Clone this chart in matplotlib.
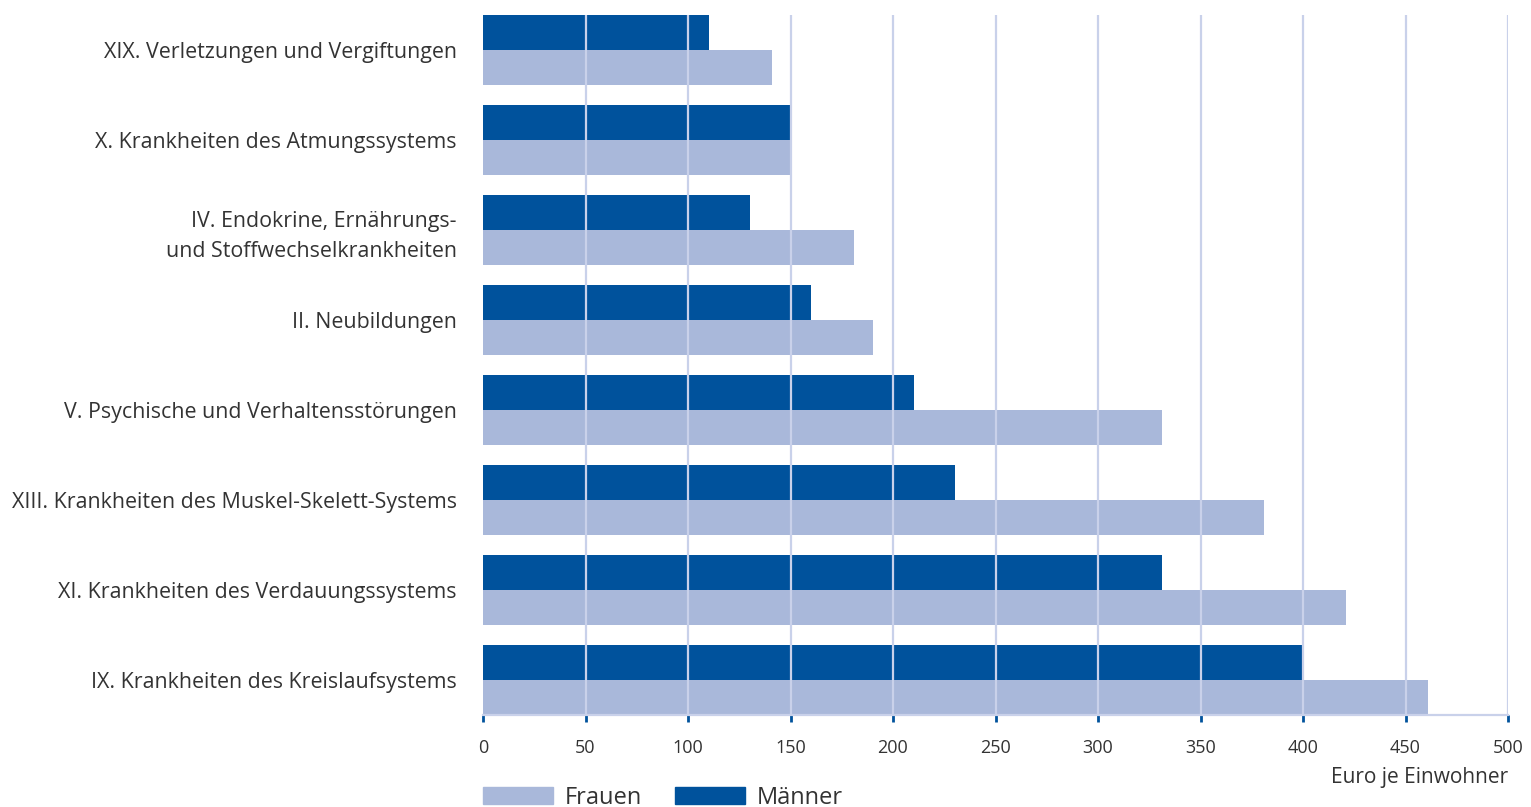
import numpy as np
import matplotlib.pyplot as plt
from matplotlib.patches import Patch

plt.rcParams['font.family'] = ['Open Sans', 'DejaVu Sans']

categories = [
    "XIX. Verletzungen und Vergiftungen",
    "X. Krankheiten des Atmungssystems",
    "IV. Endokrine, Ernährungs-\nund Stoffwechselkrankheiten",
    "II. Neubildungen",
    "V. Psychische und Verhaltensstörungen",
    "XIII. Krankheiten des Muskel-Skelett-Systems",
    "XI. Krankheiten des Verdauungssystems",
    "IX. Krankheiten des Kreislaufsystems",
]
maenner = [110, 150, 130, 160, 210, 230, 331, 400]
frauen = [141, 150, 181, 190, 331, 381, 421, 461]
xticks = [0, 50, 100, 150, 200, 250, 300, 350, 400, 450, 500]

c_m = "#00529c"
c_f = "#a9b8da"
c_grid = "#c9d1ea"
c_text = "#333333"

fig = plt.figure(figsize=(15.31, 8.07), dpi=100)
ax = fig.add_axes([483 / 1531, 1 - 715 / 807, 1025 / 1531, 700 / 807])

n = len(categories)
bh = 35 / 90
# bottom group is last category
pos = np.arange(n)[::-1]
ax.barh(pos + bh, maenner, height=bh, align='edge', color=c_m, zorder=1)
ax.barh(pos, frauen, height=bh, align='edge', color=c_f, zorder=1)

for x in xticks[1:]:
    ax.axvline(x, color=c_grid, lw=1.6, zorder=2)

ax.set_xlim(0, 500)
ax.set_ylim(0, (n - 1) + 2 * bh)
ax.set_yticks(pos + bh)
ax.set_yticklabels(categories, fontsize=15.4, color=c_text, ha='right', linespacing=1.55)
ax.tick_params(axis='y', length=0, pad=19)
ax.set_xticks(xticks)
ax.set_xticklabels([str(v) for v in xticks], fontsize=13, color=c_text)
ax.tick_params(axis='x', length=5, width=2, color=c_m, pad=12)

for s in ['top', 'right', 'left']:
    ax.spines[s].set_visible(False)
ax.spines['bottom'].set_color(c_grid)
ax.spines['bottom'].set_linewidth(1.6)

fig.text(1508 / 1531, 1 - 778 / 807, "Euro je Einwohner", ha='right', va='center',
         fontsize=15, color=c_text)

handles = [Patch(color=c_f, label="Frauen"), Patch(color=c_m, label="Männer")]
fig.legend(handles=handles, loc='center left', bbox_to_anchor=(483 / 1531, 1 - 798 / 807),
           ncol=2, frameon=False, fontsize=17, handlelength=2.97, handleheight=0.76,
           handletextpad=0.5, columnspacing=1.4, borderpad=0, borderaxespad=0,
           labelcolor=c_text)

fig.savefig("out.png", dpi=100)
